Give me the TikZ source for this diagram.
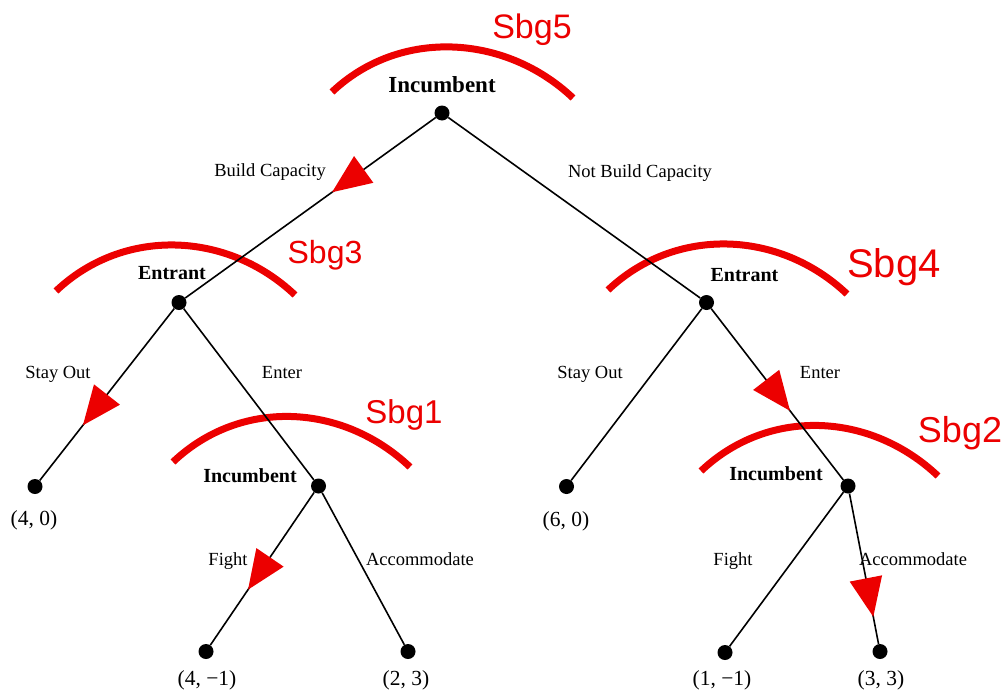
\documentclass[tikz,border=0pt]{standalone}
\usepackage{fontspec}
\setmainfont{Liberation Serif}
\newfontfamily\handfont{Liberation Sans}
\usetikzlibrary{calc}
\definecolor{sgred}{RGB}{236,0,0}

% red arrowhead sitting on the branch from #1 to #2, tip at fraction #3
\newcommand\redtip[3]{%
  \coordinate (tp) at ($(#1)!#3!(#2)$);
  \coordinate (bm) at ($(tp)!39pt!(#1)$);
  \fill[sgred] (tp) -- ($(bm)!16.5pt!90:(tp)$) -- ($(bm)!16.5pt!-90:(tp)$) -- cycle;}
% red arc marking a subgame
\newcommand\sgarc[2]{%
  \draw[subgame] #1 .. controls +(67.5,-64) and +(-67.5,-64) .. #2;}

\begin{document}
\begin{tikzpicture}[x=1pt,y=-1pt,
  dot/.style={circle,fill=black,inner sep=0pt,minimum size=15pt},
  branch/.style={line width=1.6pt},
  movelbl/.style={font=\fontsize{20}{24}\selectfont\bfseries,anchor=base,inner sep=0pt},
  actlbl/.style={font=\fontsize{18.5}{22}\selectfont,anchor=base,inner sep=0pt},
  payoff/.style={font=\fontsize{21.5}{26}\selectfont,anchor=base,inner sep=0pt},
  subgame/.style={draw=sgred,line width=7pt},
  sglbl/.style={text=sgred,anchor=base,inner sep=0pt},
]
\fill[white] (0,0) rectangle (1003,699);
\useasboundingbox (0,0) rectangle (1003,699);

% subgame arcs
\sgarc{(332,92)}{(573,98)}
\sgarc{(56,291)}{(295,295)}
\sgarc{(608,290)}{(847,294)}
\sgarc{(173,462)}{(410,467)}
\sgarc{(701,471)}{(938,476)}

% decision and terminal nodes
\node[dot] (root) at (442,113) {};
\node[dot] (entL) at (179,302.5) {};
\node[dot] (entR) at (706.5,302.5) {};
\node[dot] (incL) at (318.5,486) {};
\node[dot] (incR) at (848,486) {};
\node[dot] (leafA) at (35,486.5) {};
\node[dot] (leafB) at (566.5,486.5) {};
\node[dot] (leafC) at (206,651.5) {};
\node[dot] (leafD) at (408,651.5) {};
\node[dot] (leafE) at (725,652.5) {};
\node[dot] (leafF) at (880,651.5) {};

% branches
\draw[branch] (root) -- (entL);
\draw[branch] (root) -- (entR);
\draw[branch] (entL) -- (leafA);
\draw[branch] (entL) -- (incL);
\draw[branch] (entR) -- (leafB);
\draw[branch] (entR) -- (incR);
\draw[branch] (incL) -- (leafC);
\draw[branch] (incL) -- (leafD);
\draw[branch] (incR) -- (leafE);
\draw[branch] (incR) -- (leafF);

% chosen moves
\redtip{root}{entL}{0.418}
\redtip{entL}{leafA}{0.667}
\redtip{entR}{incR}{0.59}
\redtip{incL}{leafC}{0.626}
\redtip{incR}{leafF}{0.79}

% player labels
\node[movelbl,font=\fontsize{23}{27}\selectfont\bfseries] (pRoot) at (442,92) {Incumbent};
\node[movelbl] (pEntL) at (172,279) {Entrant};
\node[movelbl] (pEntR) at (744.5,281.5) {Entrant};
\node[movelbl] (pIncL) at (250,482.5) {Incumbent};
\node[movelbl] (pIncR) at (776,480) {Incumbent};

% action labels
\node[actlbl] (aBuild) at (270,176) {Build Capacity};
\node[actlbl] (aNot) at (640,177) {Not Build Capacity};
\node[actlbl] (aOutL) at (58,378) {Stay Out};
\node[actlbl] (aEnterL) at (282,378) {Enter};
\node[actlbl] (aOutR) at (590,378) {Stay Out};
\node[actlbl] (aEnterR) at (820,378) {Enter};
\node[actlbl] (aFightL) at (228,565) {Fight};
\node[actlbl] (aAccL) at (420,565.5) {Accommodate};
\node[actlbl] (aFightR) at (733,565) {Fight};
\node[actlbl] (aAccR) at (913,565) {Accommodate};

% payoffs
\node[payoff] (uA) at (34,525) {(4, 0)};
\node[payoff] (uB) at (566,526) {(6, 0)};
\node[payoff] (uC) at (207,685) {(4, −1)};
\node[payoff] (uD) at (406,685) {(2, 3)};
\node[payoff] (uE) at (722,685) {(1, −1)};
\node[payoff] (uF) at (881,685) {(3, 3)};

% subgame tags
\node[sglbl,font=\handfont\fontsize{34}{40}\selectfont] (s5) at (532,38) {Sbg5};
\node[sglbl,font=\handfont\fontsize{32}{38}\selectfont] (s3) at (325,263) {Sbg3};
\node[sglbl,font=\handfont\fontsize{40}{46}\selectfont] (s4) at (894,277) {Sbg4};
\node[sglbl,font=\handfont\fontsize{33}{39}\selectfont] (s1) at (404,423) {Sbg1};
\node[sglbl,font=\handfont\fontsize{36}{42}\selectfont] (s2) at (960,442) {Sbg2};
\end{tikzpicture}
\end{document}
